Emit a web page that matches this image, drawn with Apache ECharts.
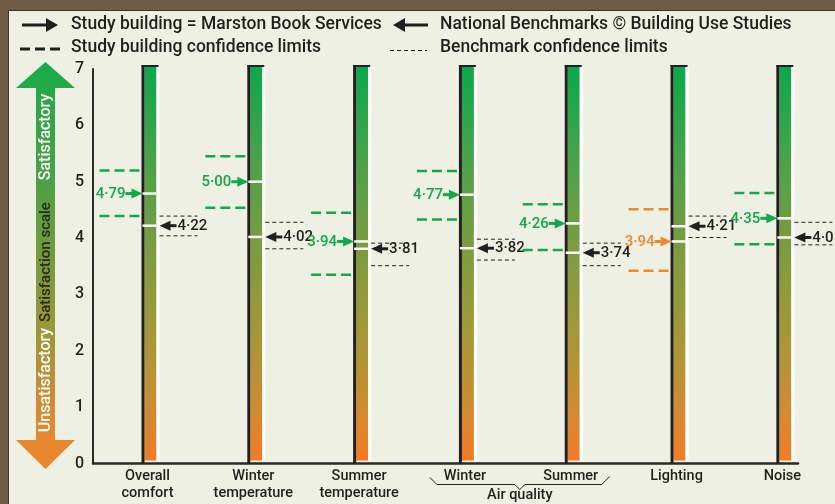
<!DOCTYPE html>
<html><head><meta charset="utf-8">
<script src="https://cdn.jsdelivr.net/npm/echarts@6/dist/echarts.min.js"></script>
<style>html,body{margin:0;padding:0;background:#6f5c47}#c{width:835px;height:504px}</style>
</head><body><div id="c"></div>
<script>
// ---- data ----
const categories = ['Overall\ncomfort', 'Winter\ntemperature', 'Summer\ntemperature', 'Winter', 'Summer', 'Lighting', 'Noise'];
const studyValues = [4.79, 5.00, 3.94, 4.77, 4.26, 3.94, 4.35];
const studyLower  = [4.39, 4.54, 3.35, 4.33, 3.79, 3.42, 3.89];
const studyUpper  = [5.20, 5.45, 4.45, 5.19, 4.60, 4.51, 4.80];
const benchValues = [4.22, 4.02, 3.81, 3.82, 3.74, 4.21, 4.01];
const benchLower  = [4.04, 3.81, 3.51, 3.61, 3.51, 4.01, 3.88];
const benchUpper  = [4.39, 4.28, 3.91, 3.98, 3.91, 4.39, 4.28];
const categoryGroups = [{ name: 'Air quality', from: 3, to: 4 }];
const yTicks = [0, 1, 2, 3, 4, 5, 6, 7];
const scaleLabels = ['Satisfactory', 'Satisfaction scale', 'Unsatisfactory'];
const legendLabels = ['Study building = Marston Book Services', 'National Benchmarks \u00a9 Building Use Studies',
                      'Study building confidence limits', 'Benchmark confidence limits'];

// ---- styles ----
const FONT = 'Roboto, "Liberation Sans", Arial, sans-serif';
const GREEN = '#13a84a', ORANGE = '#ee8a2e', DARK = '#231f20', WHITE = '#ffffff';
const PANEL = '#eef0e3';
function fmt(v) { return v.toFixed(2).replace('.', '\u00b7'); }
function barGrad() {
  return new echarts.graphic.LinearGradient(0, 0, 0, 1, [
    { offset: 0, color: '#0aa84c' }, { offset: 0.25, color: '#4ea24a' },
    { offset: 0.45, color: '#7a9c40' }, { offset: 0.6, color: '#959a3a' },
    { offset: 0.75, color: '#b39436' }, { offset: 0.88, color: '#d48a30' },
    { offset: 1, color: '#f27c26' }]);
}
function txt(x, y, text, size, fill, align, valign, weight, extra) {
  return Object.assign({ type: 'text', x: x, y: y, style: {
    text: text, fill: fill, fontSize: size, fontFamily: FONT, fontWeight: weight || 500,
    align: align, textAlign: align, verticalAlign: valign, textVerticalAlign: valign } }, extra || {});
}

const rows = categories.map((c, i) => [i, studyValues[i], studyLower[i], studyUpper[i], benchValues[i], benchLower[i], benchUpper[i]]);

function renderColumn(params, api) {
  const i = api.value(0);
  const top = api.coord([i, yTicks[yTicks.length - 1]]);
  const cx = top[0], y7 = top[1];
  const y0 = api.coord([i, 0])[1];
  const sv = api.value(1), bv = api.value(4);
  const ys = api.coord([i, sv])[1], ysl = api.coord([i, api.value(2)])[1], ysu = api.coord([i, api.value(3)])[1];
  const yb = api.coord([i, bv])[1], ybl = api.coord([i, api.value(5)])[1], ybu = api.coord([i, api.value(6)])[1];
  const sColor = sv < bv ? ORANGE : GREEN;
  const ch = [];
  const gTop = y7 - 2, gBot = y0 - 3;
  ch.push({ type: 'rect', shape: { x: cx - 5, y: gTop, width: 12, height: gBot - gTop }, style: { fill: barGrad() } });
  ch.push({ type: 'rect', shape: { x: cx - 8, y: y7 - 4, width: 3, height: y0 - (y7 - 4) }, style: { fill: DARK } });
  ch.push({ type: 'rect', shape: { x: cx - 8, y: y7 - 4, width: 17, height: 2 }, style: { fill: DARK } });
  ch.push({ type: 'rect', shape: { x: cx + 7, y: gTop, width: 3, height: gBot - gTop }, style: { fill: WHITE } });
  // value lines
  ch.push({ type: 'rect', shape: { x: cx - 7, y: ys - 1.25, width: 14, height: 2.5 }, style: { fill: WHITE } });
  ch.push({ type: 'rect', shape: { x: cx - 7, y: yb - 1.25, width: 14, height: 2.5 }, style: { fill: WHITE } });
  // study arrow
  const st = cx - 7;
  ch.push({ type: 'polygon', shape: { points: [[st, ys], [st - 11, ys - 5], [st - 11, ys + 5]] }, style: { fill: sColor } });
  ch.push({ type: 'rect', shape: { x: st - 17, y: ys - 1.5, width: 8, height: 3 }, style: { fill: sColor } });
  ch.push(txt(st - 17, ys + 0.5, fmt(sv), 15, sColor, 'right', 'middle', 500));
  // study CI
  [ysl, ysu].forEach(y => ch.push({ type: 'line', shape: { x1: cx - 50, y1: y, x2: cx - 9, y2: y },
    style: { stroke: sColor, lineWidth: 2.5, lineDash: [10, 5] } }));
  // bench arrow
  const bt = cx + 10;
  ch.push({ type: 'polygon', shape: { points: [[bt, yb], [bt + 11, yb - 5], [bt + 11, yb + 5]] }, style: { fill: DARK } });
  ch.push({ type: 'rect', shape: { x: bt + 9, y: yb - 1.5, width: 8, height: 3 }, style: { fill: DARK } });
  ch.push(txt(bt + 18, yb + 0.5, fmt(bv), 15, DARK, 'left', 'middle', 500));
  // bench CI
  [ybl, ybu].forEach(y => ch.push({ type: 'line', shape: { x1: cx + 10, y1: y, x2: cx + 48, y2: y },
    style: { stroke: DARK, lineWidth: 1, lineDash: [4, 3] } }));
  // category label
  const lab = txt(cx - 2, y0 + 4, categories[i], 14.5, DARK, 'center', 'top', 500);
  lab.style.lineHeight = 17;
  ch.push(lab);
  return { type: 'group', children: ch };
}

function renderGroup(params, api) {
  const a = api.coord([api.value(0), 0]), b = api.coord([api.value(1), 0]);
  const y0 = a[1], mid = (a[0] + b[0]) / 2;
  const g = categoryGroups[params.dataIndex];
  return { type: 'group', children: [
    { type: 'polyline', shape: { points: [[a[0] - 37, y0 + 14], [a[0] - 30, y0 + 21], [mid - 5, y0 + 21], [mid, y0 + 26],
      [mid + 5, y0 + 21], [b[0] + 29, y0 + 21], [b[0] + 37, y0 + 13]] }, style: { stroke: DARK, lineWidth: 1, fill: null } },
    txt(mid, y0 + 32, g.name, 14.5, DARK, 'center', 'middle', 500)
  ] };
}

const scaleGrad = new echarts.graphic.LinearGradient(0, 0, 0, 1, [
  { offset: 0, color: '#1aaa4a' }, { offset: 0.3, color: '#4ea046' }, { offset: 0.5, color: '#7a9a3e' },
  { offset: 0.68, color: '#a09638' }, { offset: 0.85, color: '#d88a30' }, { offset: 1, color: '#ee862c' }]);

const graphics = [
  { type: 'rect', z: -10, shape: { x: 8.5, y: 10.5, width: 840, height: 500 }, style: { fill: PANEL, stroke: '#3b3128', lineWidth: 1 } },
  // scale arrow
  { type: 'polygon', z: 5, shape: { points: [[45.5, 62], [75, 88], [55, 88], [55, 440], [75, 440], [45.5, 469], [16, 440], [36, 440], [36, 88], [16, 88]] },
    style: { fill: scaleGrad } },
  txt(46, 137, scaleLabels[0], 16, WHITE, 'center', 'middle', 500, { rotation: Math.PI / 2, z: 6 }),
  txt(46, 262, scaleLabels[1], 15, '#2a2a18', 'center', 'middle', 500, { rotation: Math.PI / 2, z: 6 }),
  txt(46, 380, scaleLabels[2], 16, WHITE, 'center', 'middle', 500, { rotation: Math.PI / 2, z: 6 }),
  // legend row 1
  { type: 'rect', z: 5, shape: { x: 22, y: 23.5, width: 26, height: 3 }, style: { fill: DARK } },
  { type: 'polygon', z: 5, shape: { points: [[58, 25], [46, 18], [46, 32]] }, style: { fill: DARK } },
  txt(71, 25, legendLabels[0], 17.5, DARK, 'left', 'middle', 500, { z: 5 }),
  { type: 'rect', z: 5, shape: { x: 404, y: 23.5, width: 24, height: 3 }, style: { fill: DARK } },
  { type: 'polygon', z: 5, shape: { points: [[393, 25], [405, 18], [405, 32]] }, style: { fill: DARK } },
  txt(440, 25, legendLabels[1], 17.5, DARK, 'left', 'middle', 500, { z: 5 }),
  // legend row 2
  { type: 'line', z: 5, shape: { x1: 20, y1: 49, x2: 62, y2: 49 }, style: { stroke: DARK, lineWidth: 3, lineDash: [10, 5] } },
  txt(71, 48, legendLabels[2], 17.5, DARK, 'left', 'middle', 500, { z: 5 }),
  { type: 'line', z: 5, shape: { x1: 390, y1: 50.5, x2: 427, y2: 50.5 }, style: { stroke: DARK, lineWidth: 1, lineDash: [4, 3] } },
  txt(440, 48, legendLabels[3], 17.5, DARK, 'left', 'middle', 500, { z: 5 })
];

const chart = echarts.init(document.getElementById('c'), null, { renderer: 'canvas' });
chart.setOption({
  animation: false,
  backgroundColor: '#6f5c47',
  grid: { left: 93, right: 37, top: 69, bottom: 40.5, containLabel: false },
  xAxis: { type: 'value', min: -0.534, max: 6.129, axisLine: { show: true, onZero: false, lineStyle: { color: '#2a2a2a', width: 2.5 } },
    axisTick: { show: false }, axisLabel: { show: false }, splitLine: { show: false } },
  yAxis: { type: 'value', min: yTicks[0], max: yTicks[yTicks.length - 1], interval: 1,
    axisLine: { show: true, onZero: false, lineStyle: { color: '#2a2a2a', width: 2 } },
    axisTick: { show: false }, splitLine: { show: false },
    axisLabel: { color: DARK, fontSize: 16, fontWeight: 500, fontFamily: FONT, margin: 9 } },
  graphic: { elements: graphics },
  series: [
    { type: 'custom', renderItem: renderColumn, data: rows, clip: false, encode: { x: 0, y: 1 }, z: 3 },
    { type: 'custom', renderItem: renderGroup, data: categoryGroups.map(g => [g.from, g.to]), clip: false, encode: { x: 0, y: 1 }, z: 3 }
  ]
});
</script></body></html>
